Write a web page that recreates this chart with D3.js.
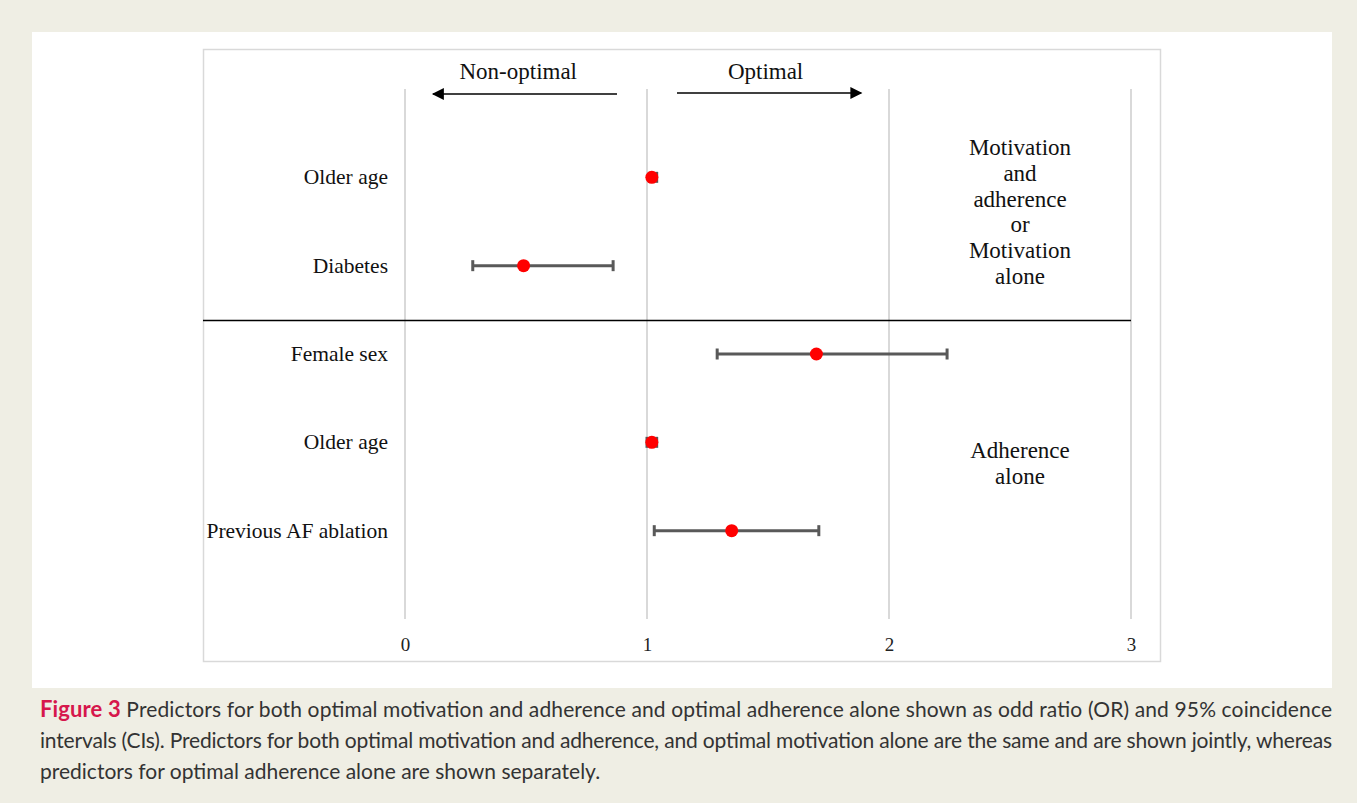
<!DOCTYPE html>
<html>
<head>
<meta charset="utf-8">
<script src="https://cdn.jsdelivr.net/npm/d3@7"></script>
<style>
  html, body { margin: 0; padding: 0; background: #efeee4; }
  svg { display: block; }
</style>
</head>
<body>
<svg id="chart" width="1357" height="803"></svg>
<script>
// Data
const rowLabels = ['Older age', 'Diabetes', 'Female sex', 'Older age', 'Previous AF ablation'];
const orValues  = [1.02, 0.49, 1.70, 1.02, 1.35];
const ciLower   = [1.01, 0.28, 1.29, 1.00, 1.03];
const ciUpper   = [1.04, 0.86, 2.24, 1.04, 1.71];
const xTicks    = [0, 1, 2, 3];
const groupTop    = ['Motivation', 'and', 'adherence', 'or', 'Motivation', 'alone'];
const groupBottom = ['Adherence', 'alone'];
const captionLines = [
    ' Predictors for both optimal motivation and adherence and optimal adherence alone shown as odd ratio (OR) and 95% coincidence',
    'intervals (CIs). Predictors for both optimal motivation and adherence, and optimal motivation alone are the same and are shown jointly, whereas',
    'predictors for optimal adherence alone are shown separately.'
];

const svg = d3.select('#chart');

// white panel + chart frame
svg.append('rect').attr('x', 32).attr('y', 32).attr('width', 1300).attr('height', 656).attr('fill', '#fff');
svg.append('rect').attr('x', 203.5).attr('y', 49.5).attr('width', 957).attr('height', 612)
    .attr('fill', '#fff').attr('stroke', '#d9d9d9').attr('stroke-width', 1.5);

const x = d3.scaleLinear().domain([0, 3]).range([405, 1131]);
const y = d3.scaleLinear().domain([-1, 5]).range([89, 619]);

const serif = '"Liberation Serif", "Times New Roman", serif';

// vertical gridlines
svg.append('g').selectAll('line').data(xTicks).enter().append('line')
    .attr('x1', d => x(d)).attr('x2', d => x(d))
    .attr('y1', y(-1)).attr('y2', y(5))
    .attr('stroke', '#d9d9d9').attr('stroke-width', 2);

// x axis labels
const axis = svg.append('g')
    .attr('transform', 'translate(0,637)')
    .call(d3.axisBottom(x).tickValues(xTicks).tickSize(0).tickPadding(0).tickFormat(d3.format('d')));
axis.select('.domain').remove();
axis.selectAll('text').attr('font-family', serif).attr('font-size', 19).attr('fill', '#222');

// divider between groups
svg.append('line')
    .attr('x1', 203).attr('x2', x(3))
    .attr('y1', y(1.62)).attr('y2', y(1.62))
    .attr('stroke', '#000').attr('stroke-width', 1.5);

// direction arrows
const defs = svg.append('defs');
defs.append('marker').attr('id', 'head').attr('viewBox', '0 0 10 10')
    .attr('refX', 9).attr('refY', 5).attr('markerWidth', 9).attr('markerHeight', 8)
    .attr('markerUnits', 'strokeWidth').attr('orient', 'auto')
    .append('path').attr('d', 'M0,0 L10,5 L0,10 z').attr('fill', '#000');

const arrows = [
    { from: 0.876, to: 0.116, yy: 94, label: 'Non-optimal', lx: 0.468 },
    { from: 1.124, to: 1.885, yy: 93, label: 'Optimal', lx: 1.49 }
];
svg.append('g').selectAll('line').data(arrows).enter().append('line')
    .attr('x1', d => x(d.from)).attr('x2', d => x(d.to))
    .attr('y1', d => d.yy).attr('y2', d => d.yy)
    .attr('stroke', '#000').attr('stroke-width', 1.5)
    .attr('marker-end', 'url(#head)');
svg.append('g').selectAll('text').data(arrows).enter().append('text')
    .attr('x', d => x(d.lx)).attr('y', 79)
    .attr('text-anchor', 'middle')
    .attr('font-family', serif).attr('font-size', 23).attr('fill', '#111')
    .text(d => d.label);

// row labels
svg.append('g').selectAll('text').data(rowLabels).enter().append('text')
    .attr('x', 388).attr('y', (d, i) => y(i) + 7)
    .attr('text-anchor', 'end')
    .attr('font-family', serif).attr('font-size', 21.5).attr('fill', '#111')
    .text(d => d);

// error bars
const rows = orValues.map((v, i) => ({ v, lo: ciLower[i], hi: ciUpper[i], i }));
const bars = svg.append('g');
bars.selectAll('line.ci').data(rows).enter().append('line')
    .attr('x1', d => x(d.lo)).attr('x2', d => x(d.hi))
    .attr('y1', d => y(d.i)).attr('y2', d => y(d.i))
    .attr('stroke', '#595959').attr('stroke-width', 3);
['lo', 'hi'].forEach(k => {
    bars.selectAll('line.cap-' + k).data(rows).enter().append('line')
        .attr('x1', d => x(d[k])).attr('x2', d => x(d[k]))
        .attr('y1', d => y(d.i) - 5.5).attr('y2', d => y(d.i) + 5.5)
        .attr('stroke', '#595959').attr('stroke-width', 3);
});
bars.selectAll('circle').data(rows).enter().append('circle')
    .attr('cx', d => x(d.v)).attr('cy', d => y(d.i)).attr('r', 6.5)
    .attr('fill', '#ff0000');

// group annotations
const groupText = (lines, top) => svg.append('g').selectAll('text').data(lines).enter().append('text')
    .attr('x', 1020).attr('y', (d, i) => top + i * 25.8)
    .attr('text-anchor', 'middle')
    .attr('font-family', serif).attr('font-size', 23).attr('fill', '#111')
    .text(d => d);
groupText(groupTop, 155);
groupText(groupBottom, 458);

// caption
const sans = 'Lato, "Open Sans", sans-serif';
const cap = svg.append('g').attr('font-family', sans).attr('font-size', 21).attr('fill', '#333');
const first = cap.append('text').attr('x', 40).attr('y', 717).attr('textLength', 1292).attr('lengthAdjust', 'spacing');
first.append('tspan').attr('fill', '#d6174c').attr('font-weight', 'bold').attr('font-size', 22).text('Figure 3');
first.append('tspan').text(captionLines[0]);
cap.append('text').attr('x', 40).attr('y', 748).attr('textLength', 1292).attr('lengthAdjust', 'spacing').text(captionLines[1]);
cap.append('text').attr('x', 40).attr('y', 779).text(captionLines[2]);
</script>
</body>
</html>
